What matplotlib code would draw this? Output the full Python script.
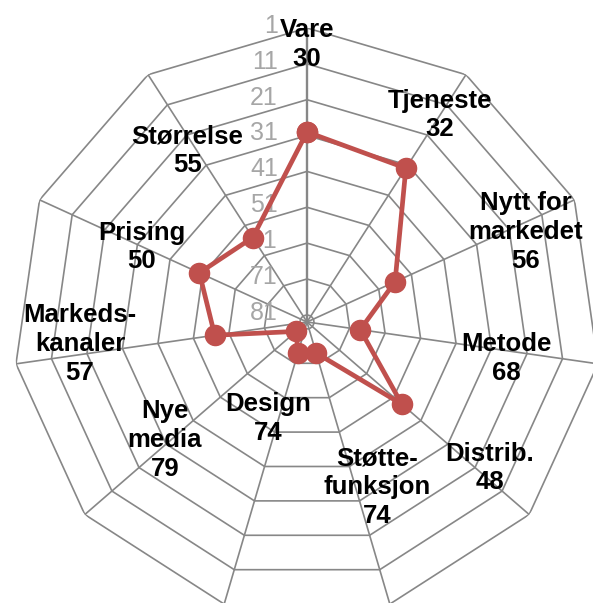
import numpy as np
import matplotlib.pyplot as plt

# clockwise from the top
categories = ['Vare', 'Tjeneste', 'Nytt for\nmarkedet', 'Metode', 'Distrib.',
              'Støtte-\nfunksjon', 'Design', 'Nye\nmedia', 'Markeds-\nkanaler',
              'Prising', 'Størrelse']
values = [30, 32, 56, 68, 48, 74, 74, 79, 57, 50, 55]
tick_values = [1, 11, 21, 31, 41, 51, 61, 71, 81]
axis_max = 83  # reversed axis: 1 at the rim, 83 at the centre

# where each data label sits (compass angle in deg, radius in axis units)
label_pos = [(0, 77.3), (32.7, 68.6), (67.7, 66), (100.3, 56.4), (128.6, 65.3),
             (157, 50), (202, 29), (230.3, 51.5), (264.5, 63.6), (294.4, 50.6),
             (325, 58.3)]

plt.rcParams['font.family'] = ['Liberation Sans', 'DejaVu Sans']

n = len(categories)
theta = np.arange(n) * 2 * np.pi / n
theta_c = np.append(theta, theta[0])

def to_r(v):
    return axis_max - np.asarray(v, dtype=float)

fig = plt.figure(figsize=(5.93, 6.03), dpi=100)
# centre at (307, 322) px, rim radius 294 px -> axes spills a bit past the figure
ax = fig.add_axes([13 / 593, -13 / 603, 588 / 593, 588 / 603], projection='polar')
ax.set_theta_offset(np.pi / 2)
ax.set_theta_direction(-1)
ax.set_ylim(0, to_r(tick_values[0]))
ax.axis('off')

grid_col = '#878787'
for v in tick_values:
    ax.plot(theta_c, np.full(n + 1, to_r(v)), color=grid_col, lw=1.2, zorder=1)
for i, t in enumerate(theta):
    ax.plot([t, t], [0, to_r(tick_values[0])], color=grid_col,
            lw=1.7 if i == 0 else 1.2, zorder=1)

for v in tick_values:
    ax.annotate(str(v), xy=(0, to_r(v)), xytext=(-21, 1.5), textcoords='offset points',
                ha='right', va='center', fontsize=18, color='#a6a6a6', zorder=2)

r_vals = to_r(values)
ax.plot(theta_c, np.append(r_vals, r_vals[0]), color='#C0504D', lw=3.4,
        marker='o', ms=14.5, zorder=5)

for name, val, (ang, rr) in zip(categories, values, label_pos):
    ax.text(np.deg2rad(ang), rr, f'{name}\n{val}', ha='center', va='center',
            fontsize=18.5, fontweight='bold', linespacing=1.25, color='black', zorder=6)

fig.savefig('out.png', dpi=100)
